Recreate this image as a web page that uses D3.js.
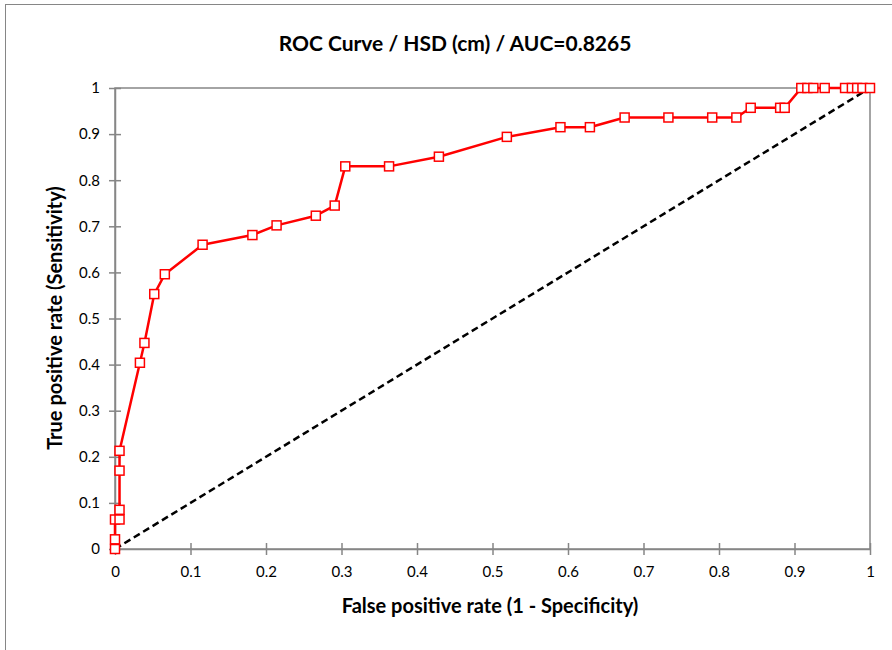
<!DOCTYPE html>
<html>
<head>
<meta charset="utf-8">
<script src="https://cdn.jsdelivr.net/npm/d3@7"></script>
<style>
  body { margin: 0; background: #fff; }
  svg { display: block; font-family: Lato, "Liberation Sans", sans-serif; }
</style>
</head>
<body>
<svg></svg>
<script>
// ROC points (false positive rate, true positive rate)
const fpr = [0, 0, 0, 0.006, 0.006, 0.006, 0.006, 0.033, 0.039, 0.052, 0.066,
  0.116, 0.182, 0.214, 0.266, 0.291, 0.305, 0.363, 0.429, 0.519, 0.590,
  0.629, 0.675, 0.733, 0.791, 0.823, 0.842, 0.881, 0.887, 0.909, 0.917,
  0.925, 0.940, 0.967, 0.976, 0.983, 0.990, 1];
const tpr = [0, 0.021, 0.064, 0.064, 0.085, 0.170, 0.213, 0.404, 0.447, 0.553, 0.596,
  0.660, 0.681, 0.702, 0.723, 0.745, 0.830, 0.830, 0.851, 0.894, 0.915,
  0.915, 0.936, 0.936, 0.936, 0.936, 0.957, 0.957, 0.957, 1, 1,
  1, 1, 1, 1, 1, 1, 1];
const diagonal = [0, 1];
const tickValues = [0, 0.1, 0.2, 0.3, 0.4, 0.5, 0.6, 0.7, 0.8, 0.9, 1];
const tickLabels = ["0", "0.1", "0.2", "0.3", "0.4", "0.5", "0.6", "0.7", "0.8", "0.9", "1"];

const title = "ROC Curve / HSD (cm) / AUC=0.8265";
const xTitle = "False positive rate (1 - Specificity)";
const yTitle = "True positive rate (Sensitivity)";

let width = 892;
let height = 650;
let plotLeft = 115, plotRight = 870, plotTop = 88, plotBottom = 549;
let grey = "#868686";

var svg = d3.select("svg")
  .attr("width", width)
  .attr("height", height);

// outer chart frame
svg.append("rect")
  .attr("x", 5.5).attr("y", 4.5)
  .attr("width", 1000).attr("height", 1000)
  .attr("fill", "#fff")
  .attr("stroke", grey)
  .attr("stroke-width", 1);

let xScale = d3.scaleLinear().domain([0, 1]).range([plotLeft, plotRight]);
let yScale = d3.scaleLinear().domain([0, 1]).range([plotBottom, plotTop]);

// plot area box
svg.append("rect")
  .attr("x", plotLeft).attr("y", plotTop)
  .attr("width", plotRight - plotLeft).attr("height", plotBottom - plotTop)
  .attr("fill", "none")
  .attr("stroke", grey)
  .attr("stroke-width", 1.5);

let fmt = (d, i) => tickLabels[i];

let xAxis = d3.axisBottom(xScale).tickValues(tickValues).tickFormat(fmt)
  .tickSize(6).tickPadding(11).tickSizeOuter(0);
let gx = svg.append("g")
  .attr("transform", "translate(0," + plotBottom + ")")
  .call(xAxis);
gx.selectAll(".tick line").attr("y1", -6);

let yAxis = d3.axisLeft(yScale).tickValues(tickValues).tickFormat(fmt)
  .tickSize(6).tickPadding(9).tickSizeOuter(0);
let gy = svg.append("g")
  .attr("transform", "translate(" + plotLeft + ",0)")
  .call(yAxis);
gy.selectAll(".tick line").attr("x1", 6);

svg.selectAll(".domain").attr("stroke", grey).attr("stroke-width", 1.5);
svg.selectAll(".tick line").attr("stroke", grey).attr("stroke-width", 1.5);
svg.selectAll(".tick text")
  .attr("fill", "#000")
  .style("font-size", "15px")
  .style("font-family", "Lato, 'Liberation Sans', sans-serif");

// diagonal reference line
svg.append("line")
  .attr("x1", xScale(diagonal[0])).attr("y1", yScale(diagonal[0]))
  .attr("x2", xScale(diagonal[1])).attr("y2", yScale(diagonal[1]))
  .attr("stroke", "#000")
  .attr("stroke-width", 2.5)
  .attr("stroke-dasharray", "7,4");

let pts = fpr.map((d, i) => [d, tpr[i]]);

let line = d3.line()
  .x(d => xScale(d[0]))
  .y(d => yScale(d[1]));

svg.append("path")
  .datum(pts)
  .attr("d", line)
  .attr("fill", "none")
  .attr("stroke", "#ff0000")
  .attr("stroke-width", 2.5)
  .attr("stroke-linejoin", "round");

let s = 9;
svg.selectAll("rect.pt")
  .data(pts)
  .enter()
  .append("rect")
  .attr("class", "pt")
  .attr("x", d => xScale(d[0]) - s / 2)
  .attr("y", d => yScale(d[1]) - s / 2)
  .attr("width", s)
  .attr("height", s)
  .attr("fill", "#fff")
  .attr("stroke", "#ff0000")
  .attr("stroke-width", 1.5);

// titles
svg.append("text")
  .attr("x", 455).attr("y", 51)
  .attr("text-anchor", "middle")
  .style("font-size", "21px")
  .style("font-weight", "bold")
  .text(title);

svg.append("text")
  .attr("x", 490).attr("y", 613)
  .attr("text-anchor", "middle")
  .style("font-size", "20px")
  .style("font-weight", "bold")
  .text(xTitle);

svg.append("text")
  .attr("transform", "translate(62," + 318 + ") rotate(-90)")
  .attr("text-anchor", "middle")
  .style("font-size", "20px")
  .style("font-weight", "bold")
  .text(yTitle);
</script>
</body>
</html>
